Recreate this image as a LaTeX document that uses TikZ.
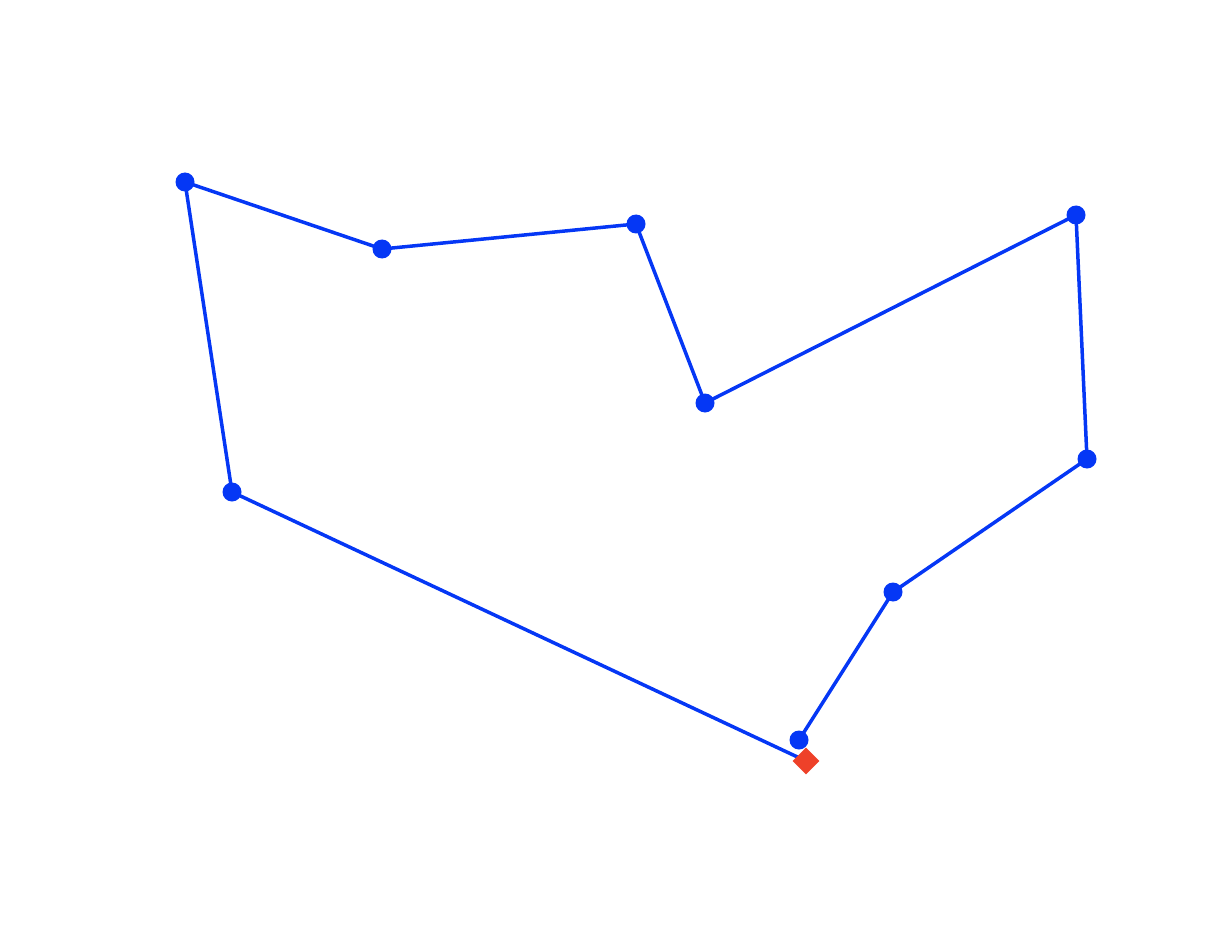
\documentclass[tikz,border=0pt]{standalone}
\usetikzlibrary{shapes.geometric}
\definecolor{lineblue}{RGB}{5,55,245}
\definecolor{markred}{RGB}{238,65,41}
\tikzset{
  pt/.style={circle, fill=lineblue, draw=none, minimum size=19pt, inner sep=0pt},
  endmark/.style={diamond, fill=markred, draw=none, minimum size=27pt, inner sep=0pt},
  edge/.style={draw=lineblue, line width=3.5pt}
}
\begin{document}
\begin{tikzpicture}[x=1pt,y=-1pt]
\useasboundingbox (0,0) rectangle (1218,944);
\coordinate (a) at (185,182);
\coordinate (b) at (382,249);
\coordinate (c) at (636,224);
\coordinate (d) at (705,403);
\coordinate (e) at (1076,215);
\coordinate (f) at (1087,459);
\coordinate (g) at (893,592);
\coordinate (h) at (799,740);
\coordinate (i) at (232,492);
\coordinate (s) at (806,761);
\draw[edge] (s) -- (i) -- (a) -- (b) -- (c) -- (d) -- (e) -- (f) -- (g) -- (h);
\node[pt] (na) at (a) {};
\node[pt] (nb) at (b) {};
\node[pt] (nc) at (c) {};
\node[pt] (nd) at (d) {};
\node[pt] (ne) at (e) {};
\node[pt] (nf) at (f) {};
\node[pt] (ng) at (g) {};
\node[pt] (nh) at (h) {};
\node[pt] (ni) at (i) {};
\node[endmark] (ns) at (s) {};
\end{tikzpicture}
\end{document}
